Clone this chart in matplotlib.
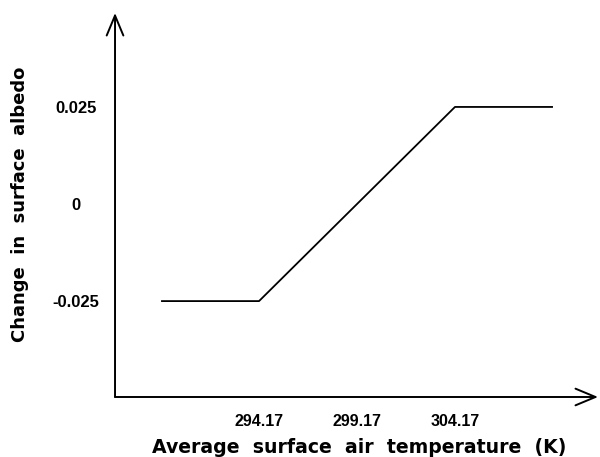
import matplotlib
matplotlib.use("Agg")
import matplotlib.pyplot as plt

# albedo feedback ramp (K, change in albedo)
temps = [289.17, 294.17, 304.17, 309.17]
albedo_change = [-0.025, -0.025, 0.025, 0.025]

x_ticks = [294.17, 299.17, 304.17]
x_tick_labels = ["294.17", "299.17", "304.17"]
y_ticks = [-0.025, 0.0, 0.025]
y_tick_labels = ["-0.025", "0", "0.025"]

plt.rcParams['font.family'] = ['DejaVu Sans']
plt.rcParams['font.weight'] = 'bold'

fig = plt.figure(figsize=(6.0, 4.57), dpi=100)
ax = fig.add_axes([0.1917, 0.1313, 0.805, 0.8403])

ax.plot(temps, albedo_change, color='black', lw=1.3, solid_capstyle='butt')

ax.set_xlim(286.82, 311.47)
ax.set_ylim(-0.0497, 0.0492)

tick_font = dict(fontweight='bold', family=['Liberation Sans', 'DejaVu Sans'])
ax.set_xticks(x_ticks)
ax.set_xticklabels(x_tick_labels, fontsize=11.5, **tick_font)
ax.set_yticks(y_ticks)
ax.set_yticklabels(y_tick_labels, fontsize=12, **tick_font)
for lab in ax.get_yticklabels():
    lab.set_horizontalalignment('center')
ax.tick_params(axis='y', length=0, pad=28)
ax.tick_params(axis='x', length=0, pad=12)

for s in ax.spines.values():
    s.set_visible(False)

# hand-drawn style axes with open arrow heads
arrow = dict(arrowstyle='->, head_length=0.6, head_width=0.25', color='black',
             lw=1.4, shrinkA=0, shrinkB=0, mutation_scale=24)
ax.annotate('', xy=(0, 1), xytext=(0, 0), xycoords='axes fraction',
            textcoords='axes fraction', arrowprops=arrow)
ax.annotate('', xy=(1, 0), xytext=(0, 0), xycoords='axes fraction',
            textcoords='axes fraction', arrowprops=arrow)

ax.set_xlabel("Average  surface  air  temperature  (K)", fontsize=13.6,
              fontweight='bold')
ax.set_ylabel("Change  in  surface  albedo", fontsize=13,
              fontweight='bold')
ax.xaxis.set_label_coords(0.505, -0.107)
ax.yaxis.set_label_coords(-0.178, 0.501)

fig.savefig("out.png", dpi=100)
